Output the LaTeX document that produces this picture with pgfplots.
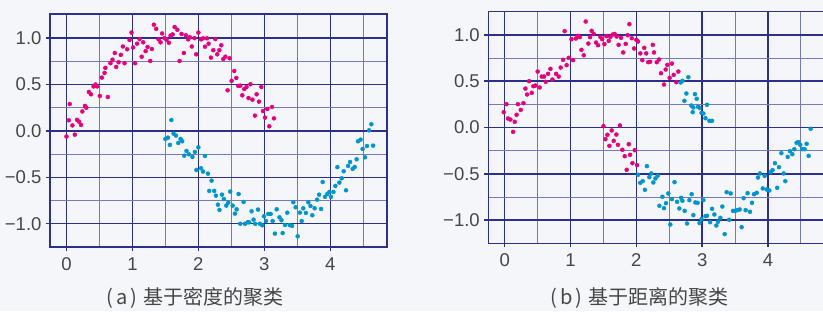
\documentclass[border=0pt]{standalone}
\usepackage{fontspec}
\setmainfont{Liberation Sans}
\newfontfamily\cjk{Noto Sans CJK SC}
\usepackage{pgfplots}
\pgfplotsset{compat=1.18}

\definecolor{bg}{RGB}{244,246,250}
\definecolor{majorc}{RGB}{45,47,140}
\definecolor{minorc}{RGB}{120,120,188}
\definecolor{pinkc}{RGB}{230,0,126}
\definecolor{bluec}{RGB}{0,150,205}
\definecolor{txt}{RGB}{70,70,70}

\pgfplotsset{moon/.style={
  scale only axis,
  xmin=-0.25, ymin=-1.25, ymax=1.25,
  xtick={0,1,2,3,4}, xticklabels={\mbox{0},\mbox{1},\mbox{2},\mbox{3},\mbox{4}},
  ytick={-1,-0.5,0,0.5,1},
  yticklabels={\mbox{−1.0},\mbox{−0.5},\mbox{0.0},\mbox{0.5},\mbox{1.0}},
  minor xtick={0.5,1.5,2.5,3.5,4.5},
  minor ytick={-0.75,-0.25,0.25,0.75},
  grid=both,
  major grid style={draw=majorc, line width=1.4pt},
  minor grid style={draw=minorc, line width=0.9pt},
  axis line style={draw=majorc, line width=1.5pt},
  major tick style={draw=majorc, line width=1.4pt},
  major tick length=4pt, minor tick length=0pt,
  tick align=outside, xtick pos=left, ytick pos=left,
  ticklabel style={font=\fontsize{18.5}{18.5}\selectfont, text=txt},
  xticklabel style={yshift=-3pt},
  yticklabel style={xshift=-1pt},
  clip=false,
}}
\pgfplotsset{pk/.style={only marks, mark=*, mark size=2pt, color=pinkc, mark options={draw=pinkc, fill=pinkc}},
  bl/.style={only marks, mark=*, mark size=2pt, color=bluec, mark options={draw=bluec, fill=bluec}}}

\begin{document}
\begin{tikzpicture}
\useasboundingbox (0,0) rectangle (823pt,311pt);
\clip (0,0) rectangle (823pt,311pt);
\fill[bg] (0,0) rectangle (823pt,311pt);

\begin{axis}[moon, at={(50pt,64pt)}, anchor=south west, width=337pt, height=233pt, xmax=4.86, ymax=1.26]
\addplot[pk] coordinates {(0.00,-0.06)(0.035,0.115)(0.05,0.29)(0.09,0.06)(0.126,-0.04)(0.16,0.12)(0.19,0.10)(0.22,0.065)(0.24,0.21)(0.28,0.27)(0.30,0.25)(0.34,0.42)(0.37,0.395)(0.41,0.48)(0.44,0.50)(0.465,0.48)(0.506,0.377)(0.536,0.575)(0.577,0.625)(0.59,0.68)(0.627,0.366)(0.667,0.73)(0.698,0.768)(0.733,0.84)(0.754,0.69)(0.79,0.74)(0.824,0.82)(0.855,0.91)(0.88,0.73)(0.92,0.88)(0.956,0.98)(0.986,1.06)(1.01,0.90)(1.04,0.73)(1.07,0.94)(1.108,0.99)(1.14,0.80)(1.163,0.955)(1.2,0.86)(1.23,0.905)(1.27,0.754)(1.295,0.883)(1.325,1.145)(1.36,1.10)(1.396,0.987)(1.426,0.955)(1.45,1.05)(1.487,1.00)(1.517,0.984)(1.553,0.95)(1.578,1.027)(1.61,1.04)(1.64,1.12)(1.68,1.09)(1.715,0.754)(1.745,1.045)(1.78,0.84)(1.81,1.03)(1.846,0.987)(1.87,1.01)(1.90,0.91)(1.94,1.00)(1.967,0.826)(2.00,1.06)(2.04,0.987)(2.07,0.998)(2.10,0.908)(2.13,0.998)(2.155,0.94)(2.19,0.79)(2.226,0.87)(2.256,0.99)(2.286,0.826)(2.317,0.87)(2.347,0.923)(2.377,0.775)(2.41,0.80)(2.443,0.438)(2.473,0.783)(2.504,0.54)(2.544,0.646)(2.575,0.571)(2.605,0.485)(2.635,0.488)(2.666,0.384)(2.696,0.452)(2.73,0.474)(2.76,0.355)(2.79,0.503)(2.82,0.337)(2.858,0.165)(2.883,0.395)(2.918,0.316)(2.954,0.474)(2.979,0.215)(3.01,0.144)(3.045,0.237)(3.075,0.05)(3.116,0.258)(3.146,0.136)};
\addplot[bl] coordinates {(1.50,-0.086)(1.538,-0.072)(1.568,-0.15)(1.59,0.118)(1.624,-0.029)(1.66,-0.05)(1.695,-0.129)(1.73,-0.086)(1.755,-0.111)(1.786,-0.266)(1.82,-0.215)(1.856,-0.251)(1.91,-0.28)(1.947,-0.226)(1.97,-0.42)(2.00,-0.176)(2.04,-0.402)(2.07,-0.438)(2.10,-0.27)(2.145,-0.46)(2.165,-0.646)(2.20,-0.535)(2.24,-0.646)(2.266,-0.697)(2.296,-0.794)(2.32,-0.85)(2.357,-0.686)(2.387,-0.733)(2.423,-0.804)(2.453,-0.772)(2.483,-0.653)(2.52,-0.804)(2.554,-0.89)(2.58,-0.844)(2.61,-0.679)(2.635,-1.00)(2.686,-0.765)(2.706,-1.00)(2.746,-0.984)(2.77,-0.984)(2.807,-0.865)(2.837,-0.955)(2.863,-1.00)(2.903,-0.847)(2.933,-1.00)(2.969,-1.016)(2.994,-0.919)(3.025,-0.97)(3.06,-0.894)(3.096,-0.894)(3.126,-0.97)(3.16,-1.106)(3.187,-0.844)(3.23,-0.93)(3.26,-0.962)(3.278,-1.10)(3.313,-1.013)(3.348,-0.88)(3.384,-1.013)(3.42,-1.023)(3.44,-0.768)(3.475,-0.822)(3.505,-1.135)(3.54,-0.88)(3.566,-0.97)(3.59,-0.833)(3.63,-0.883)(3.667,-0.768)(3.70,-0.808)(3.728,-0.908)(3.763,-0.833)(3.80,-0.74)(3.83,-0.686)(3.86,-0.84)(3.885,-0.55)(3.92,-0.71)(3.955,-0.679)(3.986,-0.657)(4.01,-0.71)(4.047,-0.657)(4.077,-0.592)(4.107,-0.39)(4.138,-0.556)(4.173,-0.51)(4.203,-0.434)(4.239,-0.639)(4.27,-0.377)(4.30,-0.334)(4.34,-0.409)(4.37,-0.388)(4.40,-0.305)(4.42,-0.111)(4.46,-0.093)(4.49,-0.194)(4.527,-0.284)(4.557,-0.162)(4.588,0.007)(4.623,0.072)(4.65,-0.158)};
\end{axis}

\begin{axis}[moon, at={(488.3pt,67.7pt)}, anchor=south west, width=345.5pt, height=231.6pt, xmax=5.0]
\addplot[pk] coordinates {(-0.015,0.165)(0.025,0.252)(0.05,0.097)(0.086,0.086)(0.127,-0.047)(0.152,0.061)(0.18,0.137)(0.20,0.252)(0.243,0.19)(0.284,0.263)(0.314,0.42)(0.34,0.356)(0.37,0.50)(0.41,0.374)(0.435,0.446)(0.466,0.453)(0.50,0.604)(0.53,0.432)(0.562,0.55)(0.597,0.55)(0.623,0.493)(0.658,0.579)(0.694,0.633)(0.724,0.518)(0.78,0.579)(0.82,0.55)(0.85,0.647)(0.886,0.73)(0.91,1.04)(0.94,0.673)(0.972,0.752)(1.013,0.953)(1.038,0.727)(1.08,0.96)(1.11,0.99)(1.14,0.975)(1.165,0.838)(1.2,0.78)(1.23,1.144)(1.27,0.906)(1.296,0.975)(1.32,1.043)(1.352,1.01)(1.387,0.917)(1.418,0.888)(1.453,0.978)(1.48,0.953)(1.514,0.90)(1.544,0.986)(1.58,0.935)(1.605,0.978)(1.64,1.004)(1.67,1.01)(1.70,0.982)(1.73,0.892)(1.767,0.968)(1.80,0.81)(1.838,0.903)(1.868,0.996)(1.894,1.115)(1.93,0.964)(1.965,0.853)(2.00,0.946)(2.025,0.928)(2.06,0.80)(2.09,0.727)(2.12,0.86)(2.15,0.80)(2.18,0.705)(2.208,0.709)(2.25,0.892)(2.268,0.81)(2.31,0.705)(2.344,0.734)(2.374,0.586)(2.42,0.464)(2.445,0.626)(2.47,0.676)(2.506,0.536)(2.54,0.69)(2.567,0.568)(2.607,0.489)(2.638,0.604)
(1.50,0.014)(1.53,-0.126)(1.56,-0.079)(1.59,-0.198)(1.625,-0.032)(1.656,-0.144)(1.696,-0.076)(1.72,-0.187)(1.75,0.022)(1.787,-0.241)(1.823,-0.31)(1.853,-0.457)(1.884,-0.18)(1.904,-0.295)(1.94,-0.385)(1.975,-0.245)(2.01,-0.406)};
\addplot[bl] coordinates {(2.025,-0.51)(2.06,-0.597)(2.096,-0.579)(2.13,-0.673)(2.16,-0.417)(2.197,-0.536)(2.228,-0.496)(2.258,-0.593)(2.29,-0.55)(2.324,-0.52)(2.35,-0.845)(2.395,-0.748)(2.42,-0.871)(2.45,-0.817)(2.486,-0.712)(2.516,-1.047)(2.54,-0.773)(2.58,-0.59)(2.618,-0.802)(2.653,-0.874)(2.68,-0.759)(2.70,-0.791)(2.734,-0.90)(2.77,-1.036)(2.805,-0.784)(2.84,-0.72)(2.866,-0.946)(2.896,-0.809)(2.93,-0.813)(2.96,-1.032)(2.99,-0.989)(3.018,-0.784)(3.05,-0.957)(3.073,-0.953)(3.12,-1.022)(3.15,-0.878)(3.185,-0.939)(3.215,-1.058)(3.24,-1.018)(3.276,-0.975)(3.306,-0.853)(3.342,-1.151)(3.372,-0.698)(3.41,-0.996)(3.433,-0.712)(3.468,-0.90)(3.499,-0.90)(3.53,-0.892)(3.57,-0.885)(3.60,-1.076)(3.63,-0.763)(3.66,-0.892)(3.69,-0.709)(3.727,-0.91)(3.757,-0.813)(3.787,-0.72)(3.828,-0.705)(3.848,-0.54)(3.878,-0.496)(3.92,-0.658)(3.95,-0.522)(3.98,-0.669)(4.02,-0.68)(4.04,-0.482)(4.07,-0.46)(4.106,-0.385)(4.14,-0.651)(4.167,-0.428)(4.203,-0.277)(4.238,-0.496)(4.263,-0.579)(4.30,-0.317)(4.334,-0.255)(4.37,-0.288)(4.40,-0.234)(4.435,-0.165)(4.46,-0.158)(4.49,-0.187)(4.52,-0.234)(4.557,-0.234)(4.587,-0.176)(4.618,-0.306)(4.648,-0.014)
(2.673,0.486)(2.70,0.504)(2.79,0.543)(2.73,0.288)(2.76,0.367)(2.835,0.237)(2.856,0.165)(2.866,0.216)(2.89,0.36)(2.917,0.31)(2.937,0.223)(2.96,0.212)(2.99,0.158)(3.018,0.151)(3.05,0.10)(3.073,0.245)(3.11,0.072)(3.15,0.072)};
\end{axis}

\node[font=\cjk\fontsize{20}{20}\selectfont, text=txt] at (195pt,13pt) {(\hspace{3pt}a\hspace{3pt})\hspace{6pt}基于密度的聚类};
\node[font=\cjk\fontsize{20}{20}\selectfont, text=txt] at (639.5pt,13pt) {(\hspace{3pt}b\hspace{3pt})\hspace{6pt}基于距离的聚类};
\end{tikzpicture}
\end{document}
